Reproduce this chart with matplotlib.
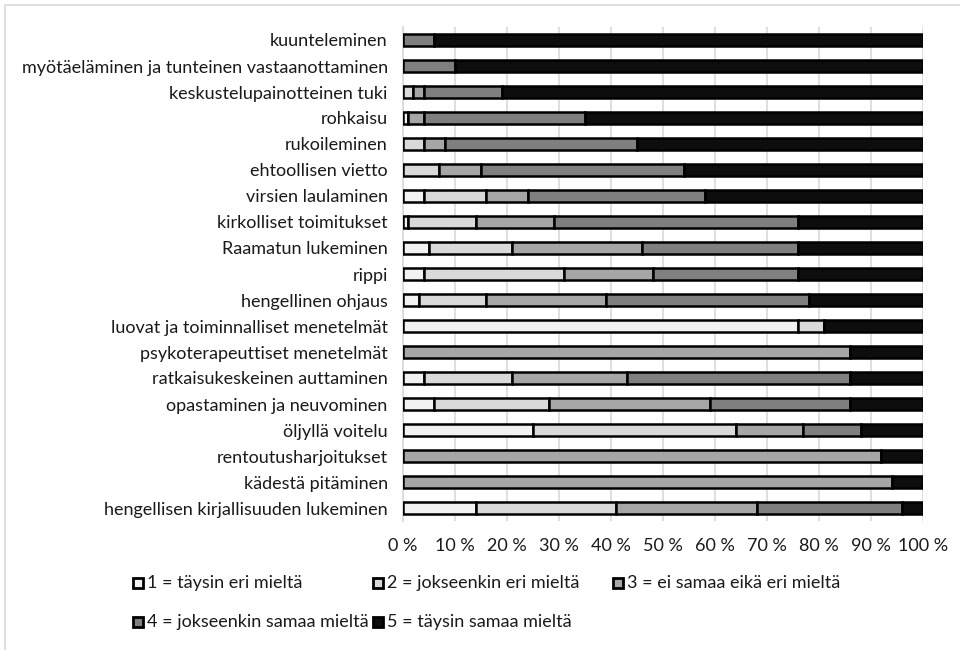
import matplotlib.pyplot as plt
from matplotlib.patches import Rectangle
from matplotlib.ticker import FuncFormatter

plt.rcParams['font.family'] = ['Lato', 'DejaVu Sans']

# statements, listed top to bottom
categories = [
    "kuunteleminen",
    "myötäeläminen ja tunteinen vastaanottaminen",
    "keskustelupainotteinen tuki",
    "rohkaisu",
    "rukoileminen",
    "ehtoollisen vietto",
    "virsien laulaminen",
    "kirkolliset toimitukset",
    "Raamatun lukeminen",
    "rippi",
    "hengellinen ohjaus",
    "luovat ja toiminnalliset menetelmät",
    "psykoterapeuttiset menetelmät",
    "ratkaisukeskeinen auttaminen",
    "opastaminen ja neuvominen",
    "öljyllä voitelu",
    "rentoutusharjoitukset",
    "kädestä pitäminen",
    "hengellisen kirjallisuuden lukeminen",
]

# share of answers (%) per answer option
s1 = [0, 0, 0, 1, 0, 0, 4, 1, 5, 4, 3, 76, 0, 4, 6, 25, 0, 0, 14]
s2 = [0, 0, 2, 0, 4, 7, 12, 13, 16, 27, 13, 5, 0, 17, 22, 39, 0, 0, 27]
s3 = [0, 0, 2, 3, 4, 8, 8, 15, 25, 17, 23, 0, 86, 22, 31, 13, 92, 94, 27]
s4 = [6, 10, 15, 31, 37, 39, 34, 47, 30, 28, 39, 0, 0, 43, 27, 11, 0, 0, 28]
s5 = [94, 90, 81, 65, 55, 46, 42, 24, 24, 24, 22, 19, 14, 14, 14, 12, 8, 6, 4]

labels = ["1 = täysin eri mieltä", "2 = jokseenkin eri mieltä",
          "3 = ei samaa eikä eri mieltä", "4 = jokseenkin samaa mieltä",
          "5 = täysin samaa mieltä"]
colors = ["#f2f2f2", "#d9d9d9", "#a6a6a6", "#7f7f7f", "#0d0d0d"]

FS = 13

fig = plt.figure(figsize=(9.6, 6.5), dpi=100)
ax = fig.add_axes([403 / 960, 1 - 521 / 650, 520 / 960, 494 / 650])

y = list(range(len(categories)))
left = [0] * len(categories)
for vals, col in zip([s1, s2, s3, s4, s5], colors):
    ax.barh(y, vals, left=left, height=0.44, color=col,
            edgecolor="black", linewidth=1.8, zorder=3)
    left = [a + b for a, b in zip(left, vals)]

ax.set_xlim(0, 100)
ax.set_ylim(len(categories) - 0.5, -0.5)
ax.set_xticks(range(0, 101, 10))
ax.xaxis.set_major_formatter(FuncFormatter(lambda v, p: f"{v:.0f} %"))
ax.set_yticks(y)
ax.set_yticklabels(categories)
ax.tick_params(axis="both", length=0, labelsize=FS, colors="#1a1a1a")
ax.tick_params(axis="x", pad=12)
ax.tick_params(axis="y", pad=11)
ax.grid(axis="x", color="#d9d9d9", linewidth=1.2, zorder=0)
for s in ["top", "right", "bottom"]:
    ax.spines[s].set_visible(False)
ax.spines["left"].set_color("#d9d9d9")
ax.spines["left"].set_linewidth(1.2)

# legend: three columns, two rows
legend_pos = [(133, 583), (373, 583), (613, 583), (133, 622), (373, 622)]
for (px, py), lab, col in zip(legend_pos, labels, colors):
    fig.add_artist(Rectangle((px / 960, 1 - (py + 5) / 650), 10 / 960, 10 / 650,
                             transform=fig.transFigure, facecolor=col,
                             edgecolor="black", linewidth=2))
    fig.text((px + 14) / 960, 1 - py / 650, lab, fontsize=FS,
             color="#1a1a1a", va="center", ha="left")

# chart frame
fig.add_artist(Rectangle((5 / 960, -0.5), 2, 1.5 - 5 / 650,
                         transform=fig.transFigure, fill=False,
                         edgecolor="#d9d9d9", linewidth=1.2))

fig.savefig("out.png", dpi=100)
